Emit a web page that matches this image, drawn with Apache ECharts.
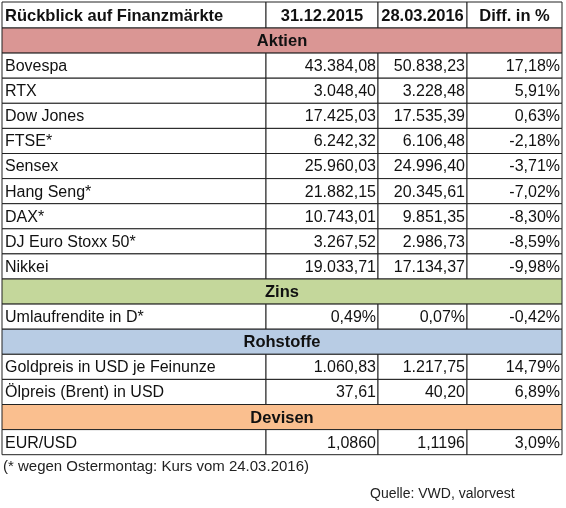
<!DOCTYPE html>
<html><head><meta charset="utf-8">
<script src="https://cdn.jsdelivr.net/npm/echarts@6/dist/echarts.min.js"></script>
<style>html,body{margin:0;padding:0;background:#fff}#c{width:566px;height:508px}</style>
</head><body><div id="c"></div>
<script>
const headers = ['Rückblick auf Finanzmärkte','31.12.2015','28.03.2016','Diff. in %'];
const sections = [
  {title:'Aktien', color:'#da9694', rows:[
    ['Bovespa','43.384,08','50.838,23','17,18%'],
    ['RTX','3.048,40','3.228,48','5,91%'],
    ['Dow Jones','17.425,03','17.535,39','0,63%'],
    ['FTSE*','6.242,32','6.106,48','-2,18%'],
    ['Sensex','25.960,03','24.996,40','-3,71%'],
    ['Hang Seng*','21.882,15','20.345,61','-7,02%'],
    ['DAX*','10.743,01','9.851,35','-8,30%'],
    ['DJ Euro Stoxx 50*','3.267,52','2.986,73','-8,59%'],
    ['Nikkei','19.033,71','17.134,37','-9,98%']]},
  {title:'Zins', color:'#c4d79b', rows:[['Umlaufrendite in D*','0,49%','0,07%','-0,42%']]},
  {title:'Rohstoffe', color:'#b8cce4', rows:[
    ['Goldpreis in USD je Feinunze','1.060,83','1.217,75','14,79%'],
    ['Ölpreis (Brent) in USD','37,61','40,20','6,89%']]},
  {title:'Devisen', color:'#fabf8f', rows:[['EUR/USD','1,0860','1,1196','3,09%']]}
];
const footnote = '(* wegen Ostermontag: Kurs vom 24.03.2016)';
const source = 'Quelle: VWD, valorvest';

const colEdges = [2, 266, 378, 467, 562];
const headerTop = 2, headerBottom = 28, rowH = 25.1;

const cells = [];
headers.forEach((h,i)=>cells.push([colEdges[i],colEdges[i+1],headerTop,headerBottom,h,i===0?'left':'center','#fff',1]));
let y = headerBottom;
sections.forEach(s=>{
  cells.push([colEdges[0],colEdges[4],y,y+rowH,s.title,'center',s.color,1]);
  y += rowH;
  s.rows.forEach(r=>{
    r.forEach((t,i)=>cells.push([colEdges[i],colEdges[i+1],y,y+rowH,t,i===0?'left':'right','#fff',0]));
    y += rowH;
  });
});
const tableBottom = y;

const chart = echarts.init(document.getElementById('c'));
chart.setOption({
  animation:false,
  grid:{left:0,right:0,top:0,bottom:0},
  xAxis:{type:'value',min:0,max:566,show:false},
  yAxis:{type:'value',min:0,max:508,inverse:true,show:false},
  series:[{
    type:'custom',
    coordinateSystem:'cartesian2d',
    encode:{x:[0,1],y:[2,3]},
    data:cells,
    renderItem:(params,api)=>{
      const p0 = api.coord([api.value(0),api.value(2)]);
      const p1 = api.coord([api.value(1),api.value(3)]);
      const c = cells[params.dataIndex];
      const align = c[5];
      const tx = align==='left'?p0[0]+3:align==='right'?p1[0]-2:(p0[0]+p1[0])/2;
      return {type:'group',children:[
        {type:'rect',shape:{x:p0[0],y:p0[1],width:p1[0]-p0[0],height:p1[1]-p0[1]},
         style:{fill:c[6],stroke:'#222',lineWidth:1}},
        {type:'text',style:{x:tx,y:(p0[1]+p1[1])/2+1,text:c[4],align:align,verticalAlign:'middle',
          font:(c[7]?'bold 16.5px':'16px')+' "Liberation Sans", Arial, sans-serif',fill:'#111'}}
      ]};
    }
  }],
  graphic:[
    {type:'text',left:3,top:tableBottom+5,style:{text:footnote,font:'15px "Liberation Sans", Arial, sans-serif',fill:'#222'}},
    {type:'text',left:370,top:tableBottom+32,style:{text:source,font:'14px "Liberation Sans", Arial, sans-serif',fill:'#222'}}
  ]
});
</script></body></html>
